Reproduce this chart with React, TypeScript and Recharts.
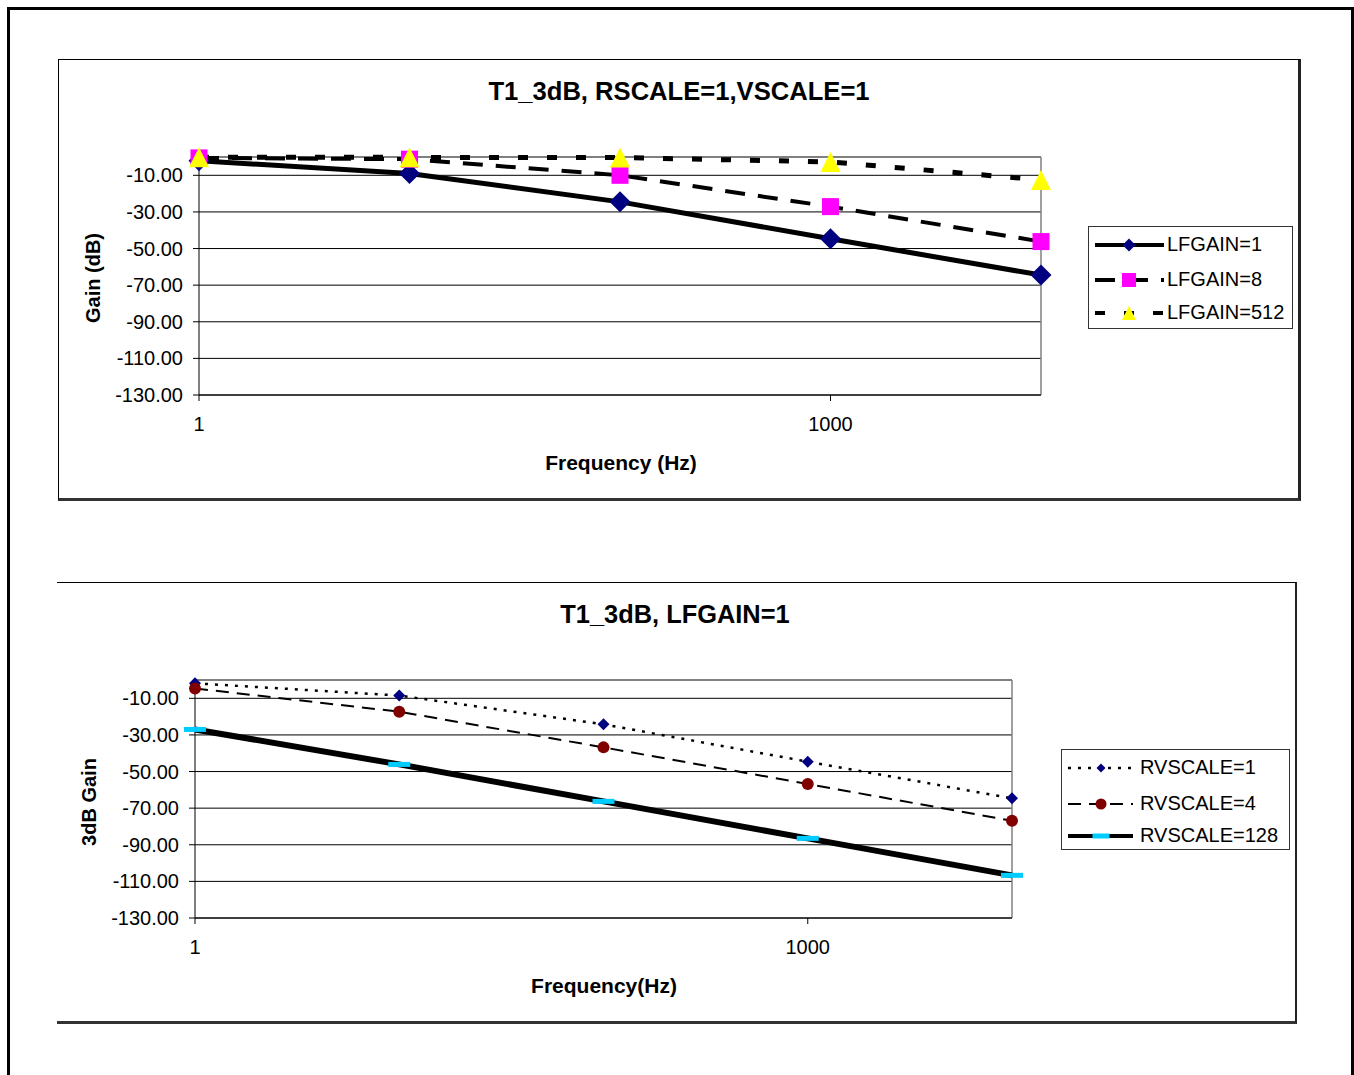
import React from "react";
import { CartesianGrid, Line, LineChart, ReferenceLine, XAxis, YAxis } from "recharts";

// frequency points (Hz) shared by both charts
const freqs = [1, 10, 100, 1000, 10000];

// top chart: T1_3dB, RSCALE=1, VSCALE=1
const lfgain1 = [-2, -9, -24.5, -44.7, -64.5];
const lfgain8 = [-0.5, -1.2, -10, -27.1, -46.2];
const lfgain512 = [-0.1, -0.2, -0.3, -2.7, -12.5];

// bottom chart: T1_3dB, LFGAIN=1
const rvscale1 = [-1.8, -8.5, -24.2, -44.6, -64.6];
const rvscale4 = [-4.6, -17.3, -36.8, -56.8, -76.9];
const rvscale128 = [-27, -46.1, -66.3, -86.5, -106.7];

const yTicks = [-130, -110, -90, -70, -50, -30, -10];
const xTicks = [1, 1000];

const FONT = "'Liberation Sans', Arial, sans-serif";

type Marker = "diamond" | "square" | "triangle" | "circle" | "dash";

interface SeriesStyle {
  key: string;
  name: string;
  width: number;
  dash?: string;
  marker: Marker;
  size: number;
  legendSize: number;
  fill: string;
}

function markerShape(kind: Marker, x: number, y: number, s: number, fill: string, key?: string) {
  switch (kind) {
    case "diamond":
      return <polygon key={key} points={`${x},${y - s} ${x + s},${y} ${x},${y + s} ${x - s},${y}`} fill={fill} />;
    case "square":
      return <rect key={key} x={x - s} y={y - s} width={2 * s} height={2 * s} fill={fill} />;
    case "triangle":
      return <polygon key={key} points={`${x},${y - s} ${x + s},${y + s} ${x - s},${y + s}`} fill={fill} />;
    case "circle":
      return <circle key={key} cx={x} cy={y} r={s} fill={fill} />;
    default:
      return <rect key={key} x={x - s} y={y - 2.5} width={2 * s} height={5} fill={fill} />;
  }
}

const topSeries: SeriesStyle[] = [
  { key: "a", name: "LFGAIN=1", width: 5, marker: "diamond", size: 10.5, legendSize: 6.5, fill: "#000080" },
  { key: "b", name: "LFGAIN=8", width: 4, dash: "20 13", marker: "square", size: 8.5, legendSize: 7, fill: "#FF00FF" },
  { key: "c", name: "LFGAIN=512", width: 5, dash: "10 19", marker: "triangle", size: 10, legendSize: 7, fill: "#FFFF00" },
];

const bottomSeries: SeriesStyle[] = [
  { key: "a", name: "RVSCALE=1", width: 2.5, dash: "3 7", marker: "diamond", size: 6, legendSize: 4.5, fill: "#000080" },
  { key: "b", name: "RVSCALE=4", width: 2, dash: "13 8", marker: "circle", size: 6, legendSize: 5.5, fill: "#800000" },
  { key: "c", name: "RVSCALE=128", width: 6, marker: "dash", size: 11, legendSize: 8.5, fill: "#00CCFF" },
];

const topData = freqs.map((f, i) => ({ f, a: lfgain1[i], b: lfgain8[i], c: lfgain512[i] }));
const bottomData = freqs.map((f, i) => ({ f, a: rvscale1[i], b: rvscale4[i], c: rvscale128[i] }));

interface ChartProps {
  data: Record<string, number>[];
  series: SeriesStyle[];
  left: number;
  top: number;
  width: number;
  height: number;
  margin: { top: number; right: number; bottom: number; left: number };
}

function GainChart({ data, series, left, top, width, height, margin }: ChartProps) {
  const tickStyle = { fontSize: 20, fill: "#000", fontFamily: FONT };
  return (
    <div style={{ position: "absolute", left, top }}>
      <LineChart width={width} height={height} data={data} margin={margin}>
        <CartesianGrid vertical={false} stroke="#000" strokeWidth={1} />
        <XAxis
          type="number"
          dataKey="f"
          scale="log"
          domain={[1, 10000]}
          ticks={xTicks}
          interval={0}
          height={40}
          tickSize={6}
          tickMargin={16}
          tick={tickStyle}
          axisLine={{ stroke: "#000" }}
          tickLine={{ stroke: "#000" }}
        />
        <YAxis
          type="number"
          domain={[-130, 0]}
          ticks={yTicks}
          interval={0}
          width={80}
          tickSize={6}
          tickMargin={10}
          tick={tickStyle}
          tickFormatter={(v: number) => v.toFixed(2)}
          axisLine={{ stroke: "#000" }}
          tickLine={{ stroke: "#000" }}
        />
        <ReferenceLine y={0} stroke="#808080" strokeWidth={2} />
        <ReferenceLine x={10000} stroke="#808080" strokeWidth={1.5} />
        {series.map((s) => (
          <Line
            key={s.key}
            dataKey={s.key}
            name={s.name}
            type="linear"
            stroke="#000"
            strokeWidth={s.width}
            strokeDasharray={s.dash}
            isAnimationActive={false}
            activeDot={false}
            dot={(p: any) => markerShape(s.marker, p.cx, p.cy, s.size, s.fill, `${s.key}-${p.index}`)}
          />
        ))}
      </LineChart>
    </div>
  );
}

function LegendBox({
  series,
  left,
  top,
  width,
  height,
  rows,
  sampleX,
  textX,
}: {
  series: SeriesStyle[];
  left: number;
  top: number;
  width: number;
  height: number;
  rows: number[];
  sampleX: [number, number, number];
  textX: number;
}) {
  return (
    <div
      style={{
        position: "absolute",
        left,
        top,
        width,
        height,
        boxSizing: "border-box",
        border: "1px solid #333",
        background: "#fff",
      }}
    >
      {series.map((s, i) => (
        <div key={s.key} style={{ position: "absolute", left: 0, top: rows[i] - 12, height: 24, width: "100%" }}>
          <svg width={sampleX[1] + 10} height={24} style={{ position: "absolute", left: 0, top: 0 }}>
            <line
              x1={sampleX[0]}
              x2={sampleX[1]}
              y1={13}
              y2={13}
              stroke="#000"
              strokeWidth={Math.min(s.width, 4)}
              strokeDasharray={s.dash}
            />
            {markerShape(s.marker, sampleX[2], 13, s.legendSize, s.fill)}
          </svg>
          <span
            style={{
              position: "absolute",
              left: textX,
              top: 0,
              lineHeight: "24px",
              fontSize: 20,
              fontFamily: FONT,
              color: "#000",
              whiteSpace: "nowrap",
            }}
          >
            {s.name}
          </span>
        </div>
      ))}
    </div>
  );
}

function TextAt({
  x,
  y,
  text,
  size,
  bold,
  rotate,
}: {
  x: number;
  y: number;
  text: string;
  size: number;
  bold?: boolean;
  rotate?: boolean;
}) {
  return (
    <div
      style={{
        position: "absolute",
        left: x,
        top: y,
        transform: `translate(-50%, -50%)${rotate ? " rotate(-90deg)" : ""}`,
        fontSize: size,
        lineHeight: 1,
        fontWeight: bold ? 700 : 400,
        fontFamily: FONT,
        whiteSpace: "nowrap",
        color: "#000",
      }}
    >
      {text}
    </div>
  );
}

export default function App() {
  return (
    <div
      style={{
        position: "fixed",
        left: 0,
        top: 0,
        width: 1354,
        height: 1075,
        overflow: "hidden",
        background: "#fff",
        fontFamily: FONT,
      }}
    >
      {/* page frame */}
      <div
        style={{
          position: "absolute",
          left: 7,
          top: 7,
          width: 1347,
          height: 1100,
          boxSizing: "border-box",
          border: "3px solid #000",
        }}
      />

      {/* top chart */}
      <div
        style={{
          position: "absolute",
          left: 58,
          top: 59,
          width: 1243,
          height: 442,
          boxSizing: "border-box",
          borderTop: "1px solid #000",
          borderLeft: "1px solid #000",
          borderRight: "3px solid #222",
          borderBottom: "3px solid #333",
        }}
      />
      <TextAt x={679} y={92} text="T1_3dB, RSCALE=1,VSCALE=1" size={25.6} bold />
      <GainChart
        data={topData}
        series={topSeries}
        left={58}
        top={59}
        width={1242}
        height={441}
        margin={{ top: 98, right: 259, bottom: 65, left: 61 }}
      />
      <TextAt x={93} y={278} text="Gain (dB)" size={20} bold rotate />
      <TextAt x={621} y={462} text="Frequency (Hz)" size={21} bold />
      <LegendBox
        series={topSeries}
        left={1088}
        top={226}
        width={205}
        height={103}
        rows={[17, 52, 85]}
        sampleX={[6, 75, 40]}
        textX={78}
      />

      {/* bottom chart */}
      <div
        style={{
          position: "absolute",
          left: 57,
          top: 582,
          width: 1240,
          height: 442,
          boxSizing: "border-box",
          borderTop: "1px solid #000",
          borderRight: "2px solid #222",
          borderBottom: "3px solid #333",
        }}
      />
      <TextAt x={675} y={615} text="T1_3dB, LFGAIN=1" size={25.4} bold />
      <GainChart
        data={bottomData}
        series={bottomSeries}
        left={57}
        top={582}
        width={1239}
        height={441}
        margin={{ top: 98, right: 284, bottom: 65, left: 58 }}
      />
      <TextAt x={89} y={802} text="3dB Gain" size={20} bold rotate />
      <TextAt x={604} y={985} text="Frequency(Hz)" size={21} bold />
      <LegendBox
        series={bottomSeries}
        left={1061}
        top={749}
        width={229}
        height={101}
        rows={[17, 53, 85]}
        sampleX={[6, 71, 39]}
        textX={78}
      />
    </div>
  );
}
